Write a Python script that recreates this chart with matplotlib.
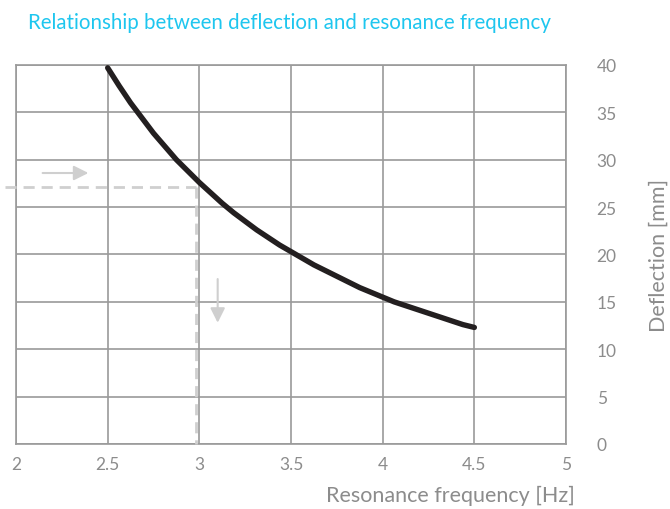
import matplotlib
matplotlib.use("Agg")
import matplotlib.pyplot as plt

freq = [2.5, 2.5625, 2.625, 2.6875, 2.75, 2.8125, 2.875, 2.9375, 3.0, 3.0625, 3.125,
        3.1875, 3.25, 3.3125, 3.375, 3.4375, 3.5, 3.5625, 3.625, 3.6875, 3.75, 3.8125,
        3.875, 3.9375, 4.0, 4.0625, 4.125, 4.1875, 4.25, 4.3125, 4.375, 4.4375, 4.5]
deflection = [39.7, 37.8, 36.0, 34.4, 32.8, 31.4, 30.0, 28.8, 27.6, 26.5, 25.4,
              24.4, 23.5, 22.6, 21.8, 21.0, 20.3, 19.6, 18.9, 18.3, 17.7, 17.1,
              16.5, 16.0, 15.5, 15.0, 14.6, 14.2, 13.8, 13.4, 13.0, 12.6, 12.3]
xticks = [2, 2.5, 3, 3.5, 4, 4.5, 5]
xticklabels = ["2", "2.5", "3", "3.5", "4", "4.5", "5"]
yticks = [0, 5, 10, 15, 20, 25, 30, 35, 40]
example_f = 2.982
example_d = 27.1

plt.rcParams['font.family'] = ['Lato', 'DejaVu Sans']

fig = plt.figure(figsize=(6.7, 5.1), dpi=100)
ax = fig.add_axes([0.0239, 0.1275, 0.8209, 0.7431])
ax.set_xlim(2, 5)
ax.set_ylim(0, 40)

grid_c = '#9a9a9a'
txt_c = '#8c8c8c'
ax.set_xticks(xticks)
ax.set_xticklabels(xticklabels)
ax.set_yticks(yticks)
ax.grid(True, color=grid_c, lw=1.2)
ax.set_axisbelow(True)
for s in ax.spines.values():
    s.set_color(grid_c)
    s.set_linewidth(1.2)
ax.yaxis.tick_right()
ax.yaxis.set_label_position('right')
ax.tick_params(length=0, labelcolor=txt_c, labelsize=12.5)
ax.tick_params(axis='x', pad=9)
ax.tick_params(axis='y', pad=22)

# dashed guide lines
dash_c = '#cfcfcf'
ax.plot([1.94, example_f], [example_d, example_d], color=dash_c, lw=2,
        ls=(0, (4, 2.5)), clip_on=False, zorder=3)
ax.plot([example_f, example_f], [example_d, 0], color=dash_c, lw=2,
        ls=(0, (4, 2.5)), clip_on=False, zorder=3)

# arrows
ax.annotate('', xy=(2.41, 28.6), xytext=(2.13, 28.6),
            arrowprops=dict(arrowstyle='-|>', color=dash_c, lw=1.5, mutation_scale=22))
ax.annotate('', xy=(3.10, 12.5), xytext=(3.10, 17.7),
            arrowprops=dict(arrowstyle='-|>', color=dash_c, lw=1.5, mutation_scale=22))

ax.plot(freq, deflection, color='#231f20', lw=3.9, solid_capstyle='round',
        solid_joinstyle='round', zorder=4)

ax.set_xlabel('Resonance frequency [Hz]', color=txt_c, fontsize=15.5,
              ha='right', va='center')
ax.xaxis.set_label_coords(1.0164, -0.1346, transform=ax.transAxes)
ax.set_ylabel('Deflection [mm]', color=txt_c, fontsize=15.5, va='center')
ax.yaxis.set_label_coords(1.1684, 0.5, transform=ax.transAxes)

fig.text(0.042, 0.955, 'Relationship between deflection and resonance frequency',
         color='#1ec6ef', fontsize=14.8, va='center', ha='left')

fig.savefig('out.png', dpi=100)
